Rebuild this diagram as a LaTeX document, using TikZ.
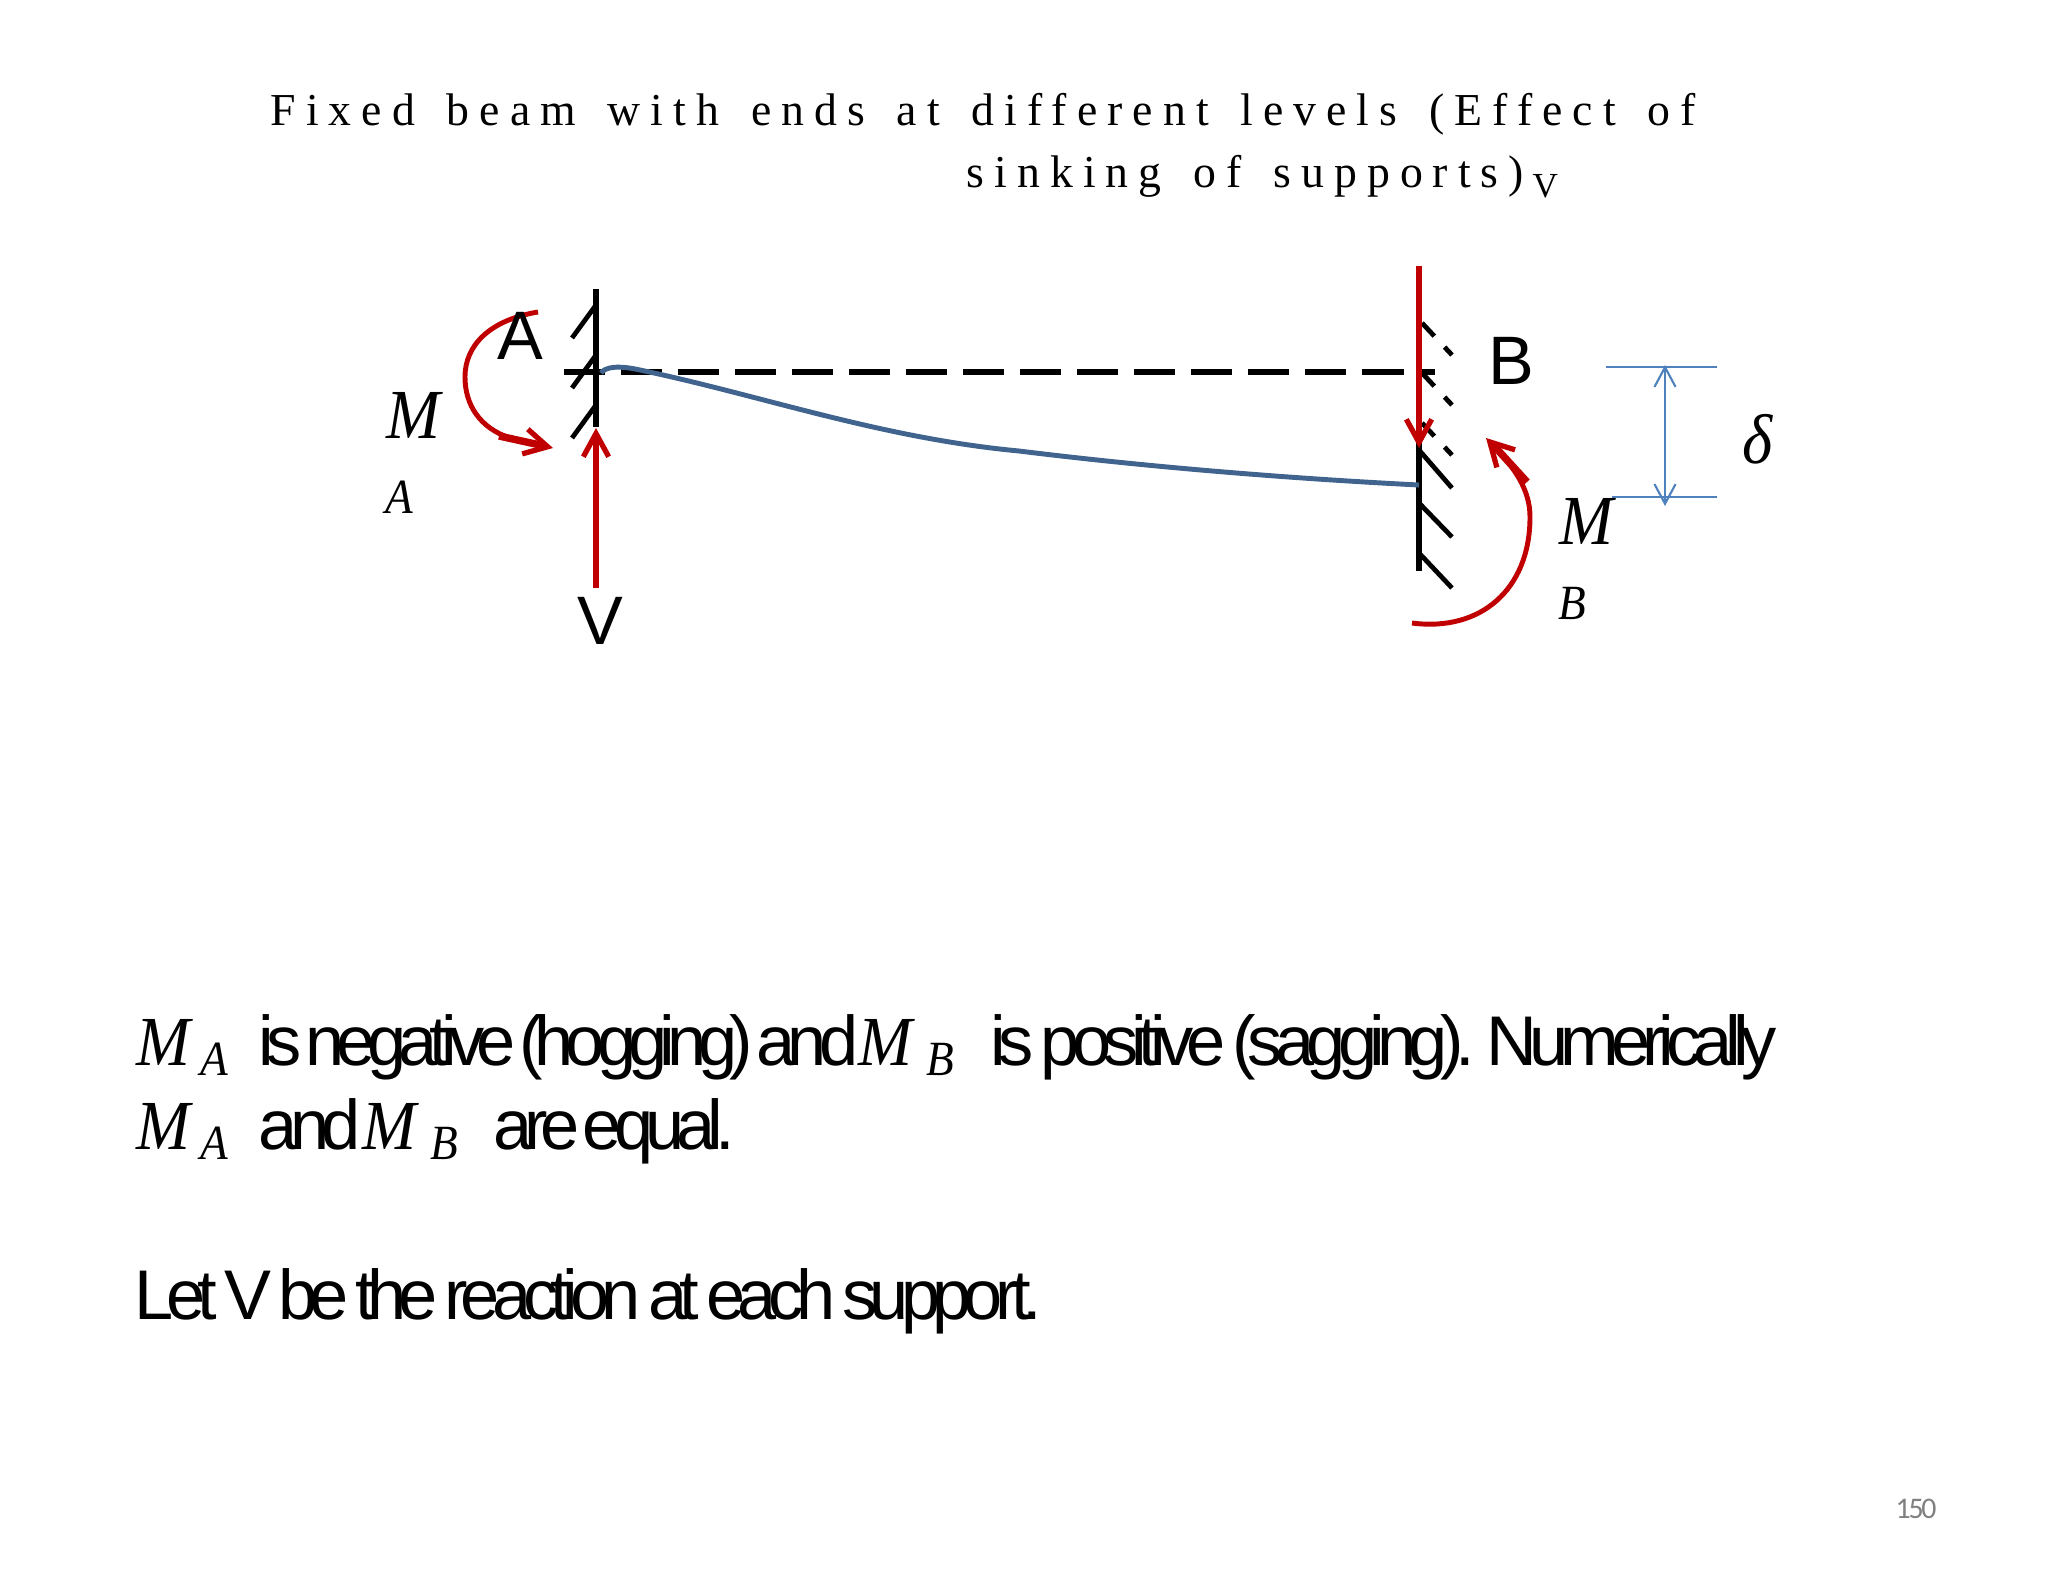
\documentclass[tikz,border=0pt]{standalone}
\usepackage{fontspec}
\usetikzlibrary{arrows.meta}
\setmainfont{Liberation Serif}
\setsansfont{Liberation Sans}
\newfontfamily\titlefont[LetterSpace=22,WordSpace=1.48]{Liberation Serif}
\newfontfamily\bodyfont[LetterSpace=-11,WordSpace=0.6]{Liberation Sans}
\newfontfamily\tightfont[LetterSpace=-11.2,WordSpace=0.3]{Liberation Sans}
\newfontfamily\pagefont[LetterSpace=-8]{Carlito}
\newfontfamily\symfont[ItalicFeatures={FakeStretch=0.92}]{Liberation Serif}
\definecolor{forcered}{HTML}{C00000}
\definecolor{beamblue}{HTML}{41648F}
\definecolor{dimblue}{HTML}{4F81BD}
\tikzset{
  titletext/.style={anchor=base west,font=\titlefont\fontsize{13}{15}\selectfont},
  bodytext/.style={anchor=base west,font=\bodyfont\fontsize{20}{24}\selectfont},
  tighttext/.style={anchor=base west,font=\tightfont\fontsize{19.99}{24}\selectfont},
  bigsym/.style={anchor=base west,font=\symfont\itshape\fontsize{20}{24}\selectfont},
  smallsym/.style={anchor=base west,font=\symfont\itshape\fontsize{14}{17}\selectfont},
  endlabel/.style={anchor=base west,font=\sffamily\fontsize{19.5}{24}\selectfont},
  wall/.style={black,line width=1.45pt},
  hatch/.style={black,line width=1.35pt},
  oldhatch/.style={black,line width=1.35pt,dash pattern=on 0.18cm off 0.15cm},
  force/.style={forcered,line width=1.7pt,-{Straight Barb[length=6.6pt,width=7.2pt,line width=1.5pt]}},
  moment/.style={forcered,line width=1.4pt,-{Straight Barb[length=6.6pt,width=7.2pt,line width=1.5pt]}},
  momentfat/.style={forcered,line width=2.1pt},
  dimline/.style={dimblue,line width=0.6pt},
  dimarrow/.style={dimblue,line width=0.6pt,{Straight Barb[length=5.6pt,width=6pt]}-{Straight Barb[length=5.6pt,width=6pt]}}
}

\begin{document}
\begin{tikzpicture}[x=0.01cm,y=-0.01cm]
\tikzstyle{every node}+=[inner sep=0pt]
\useasboundingbox (0,0) rectangle (2048,1582);
\node [titletext] (title1) at (270,126) {Fixed beam with ends at different levels (Effect of};
\node [titletext] (title2) at (966,188) {sinking of supports)};
\node [titletext,font=\titlefont\fontsize{10}{12}\selectfont] (titlev) at (1532,198) {V};
\draw [wall] (596,289) -- (596,427);
\draw [hatch] (596,305) -- (572,338);
\draw [hatch] (596,355) -- (572,388);
\draw [hatch] (596,405) -- (572,438);
\draw [wall] (1419,410) -- (1419,571);
\draw [hatch] (1419,450) -- (1452,488);
\draw [hatch] (1419,503) -- (1452,537);
\draw [hatch] (1419,553) -- (1452,588);
\draw [oldhatch] (1422,323) -- (1452,355);
\draw [oldhatch] (1422,373) -- (1452,405);
\draw [oldhatch] (1422,423) -- (1452,455);
\draw [black,line width=1.45pt,dash pattern=on 0.41cm off 0.16cm] (564,372) -- (1435,372);
\draw [beamblue,line width=1.4pt] (601,373) .. controls (605,367) and (618,365) .. (640,370) .. controls (760,395) and (880,438) .. (1019,451) .. controls (1140,466) and (1280,478) .. (1419,485);
\coordinate (vfoot) at (596,588);
\coordinate (vtip) at (596,428);
\coordinate (rtop) at (1419,266);
\coordinate (rtip) at (1419,448);
\draw [force] (vfoot) -- (vtip);
\draw [force] (rtop) -- (rtip);
\coordinate (mastart) at (538,312);
\coordinate (matip) at (553,448);
\coordinate (mafat) at (499,436);
\coordinate (mbstart) at (1412,623);
\coordinate (mbtip) at (1486,438);
\coordinate (mbfat) at (1527,482);
\draw [moment] (mastart) .. controls (490,320) and (465,345) .. (465,377) .. controls (465,405) and (480,428) .. (510,438) .. controls (525,442) and (540,445) .. (matip);
\draw [momentfat] (mafat) -- (540,445);
\draw [moment] (mbstart) .. controls (1480,632) and (1530,590) .. (1530,517) .. controls (1530,490) and (1515,468) .. (mbtip);
\draw [momentfat] (mbfat) -- (1496,448);
\coordinate (dtopl) at (1606,367);
\coordinate (dtopr) at (1717,367);
\coordinate (dbotl) at (1612,497);
\coordinate (dbotr) at (1717,497);
\coordinate (dup) at (1665,365);
\coordinate (ddown) at (1665,506);
\draw [dimline] (dtopl) -- (dtopr);
\draw [dimline] (dbotl) -- (dbotr);
\draw [dimarrow] (dup) -- (ddown);
\node [endlabel] (lblA) at (497,359) {A};
\node [endlabel] (lblB) at (1488,384) {B};
\node [endlabel] (lblV) at (577,644) {V};
\node [bigsym] (maM) at (386,438) {M};
\node [smallsym] (maA) at (385,513) {A};
\node [bigsym] (mbM) at (1559,544) {M};
\node [smallsym] (mbB) at (1558,619) {B};
\node [bigsym] (delta) at (1742,463) {δ};
\node [bigsym] (l1m1) at (136,1065) {M};
\node [smallsym] (l1a) at (200,1075) {A};
\node [tighttext] (l1t1) at (258,1065) {is negative (hogging) and};
\node [bigsym] (l1m2) at (858,1065) {M};
\node [smallsym] (l1b) at (926,1075) {B};
\node [bodytext] (l1t2) at (990,1065) {is positive (sagging). Numerically};
\node [bigsym] (l2m1) at (136,1149) {M};
\node [smallsym] (l2a) at (200,1159) {A};
\node [bodytext] (l2t1) at (258,1149) {and};
\node [bigsym] (l2m2) at (362,1149) {M};
\node [smallsym] (l2b) at (430,1159) {B};
\node [tighttext] (l2t2) at (493,1149) {are equal.};
\node [bodytext] (l3) at (134,1319) {Let V be the reaction at each support.};
\node [anchor=base west,text=black!50,font=\pagefont\fontsize{8.5}{10}\selectfont] (pagenum) at (1895,1518) {150};
\end{tikzpicture}
\end{document}
